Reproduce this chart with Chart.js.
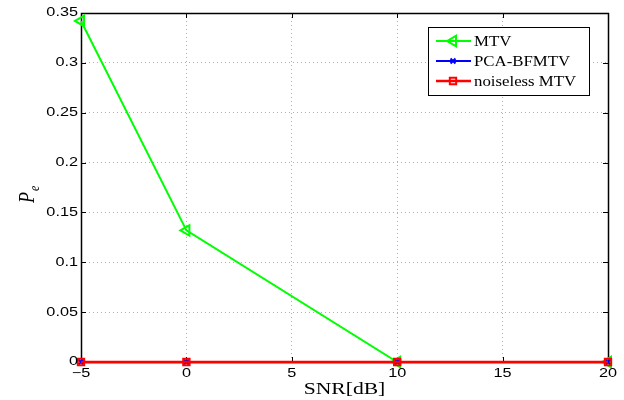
<!DOCTYPE html>
<html><head><meta charset="utf-8">
<script src="https://cdn.jsdelivr.net/npm/chart.js@4/dist/chart.umd.min.js"></script>
<style>html,body{margin:0;padding:0;background:#fff}#w{width:624px;height:400px}</style>
</head><body><div id="w"><canvas id="c" width="624" height="400"></canvas></div>
<script>
const snr = [-5, 0, 10, 20];
const mtv = [0.342, 0.132, 0, 0];
const pcaBfmtv = [0, 0, 0, 0];
const noiselessMtv = [0, 0, 0, 0];
const seriesNames = ['MTV', 'PCA-BFMTV', 'noiseless MTV'];
const xTicks = [-5, 0, 5, 10, 15, 20];
const yTicks = [0, 0.05, 0.1, 0.15, 0.2, 0.25, 0.3, 0.35];
const xTitle = 'SNR[dB]';

const toPts = ys => snr.map((x, i) => ({x: x, y: ys[i]}));
const fmtX = v => (v < 0 ? '\u2212' + Math.abs(v) : String(v));
const fmtY = v => String(parseFloat(v.toFixed(2)));

const SANS = '"Liberation Sans", Arial, sans-serif';
const SERIF = '"Liberation Serif", "DejaVu Serif", serif';

function stretchText(ctx, txt, x, y, font, align, sx, base) {
  ctx.save();
  ctx.font = font;
  ctx.textAlign = align;
  ctx.textBaseline = base || 'middle';
  ctx.translate(x, y);
  ctx.scale(sx, 1);
  ctx.fillText(txt, 0, 0);
  ctx.restore();
}

const matlabPlugin = {
  id: 'matlab',
  beforeDatasetsDraw(chart) {
    const ctx = chart.ctx, a = chart.chartArea;
    const xs = chart.scales.x, ys = chart.scales.y;
    ctx.save();
    ctx.strokeStyle = '#000';
    ctx.lineWidth = 1;
    ctx.beginPath();
    xTicks.forEach(v => {
      const px = Math.round(xs.getPixelForValue(v)) + 0.5;
      ctx.moveTo(px, a.bottom); ctx.lineTo(px, a.bottom - 5);
      ctx.moveTo(px, a.top); ctx.lineTo(px, a.top + 5);
    });
    yTicks.forEach(v => {
      const py = Math.round(ys.getPixelForValue(v)) + 0.5;
      ctx.moveTo(a.left, py); ctx.lineTo(a.left + 5, py);
      ctx.moveTo(a.right, py); ctx.lineTo(a.right - 5, py);
    });
    ctx.stroke();
    ctx.lineWidth = 1.5;
    ctx.strokeRect(a.left + 0.5, a.top + 0.5, a.right - a.left, a.bottom - a.top);
    ctx.restore();
  },
  afterDraw(chart) {
    const ctx = chart.ctx, a = chart.chartArea;
    const xs = chart.scales.x, ys = chart.scales.y;
    ctx.save();
    ctx.fillStyle = '#000';
    xTicks.forEach(v => {
      stretchText(ctx, fmtX(v), xs.getPixelForValue(v), a.bottom + 12, '12.5px ' + SANS, 'center', 1.3);
    });
    yTicks.forEach(v => {
      stretchText(ctx, fmtY(v), a.left - 3, ys.getPixelForValue(v), '12.5px ' + SANS, 'right', 1.3);
    });
    stretchText(ctx, xTitle, (a.left + a.right) / 2, 394, '16px ' + SERIF, 'center', 1.35, 'alphabetic');
    ctx.save();
    ctx.translate(34, 203);
    ctx.rotate(-Math.PI / 2);
    ctx.scale(1, 1.3);
    ctx.font = 'italic 18px ' + SERIF;
    ctx.textAlign = 'left';
    ctx.textBaseline = 'alphabetic';
    ctx.fillText('P', 0, 0);
    const pw = ctx.measureText('P').width;
    ctx.font = 'italic 12px ' + SERIF;
    ctx.fillText('e', pw + 1, 4);
    ctx.restore();
    // legend
    const lx = 428, ly = 27, lw = 161, lh = 68;
    ctx.fillStyle = '#fff';
    ctx.fillRect(lx, ly, lw, lh);
    ctx.strokeStyle = '#000';
    ctx.lineWidth = 1;
    ctx.strokeRect(lx + 0.5, ly + 0.5, lw, lh);
    chart.data.datasets.forEach((ds, i) => {
      const ry = 41 + i * 20;
      ctx.strokeStyle = ds.borderColor;
      ctx.lineWidth = ds.borderWidth;
      ctx.beginPath();
      ctx.moveTo(436, ry); ctx.lineTo(471, ry);
      ctx.stroke();
      ctx.fillStyle = 'rgba(0,0,0,0)';
      ctx.strokeStyle = ds.pointBorderColor;
      ctx.lineWidth = ds.pointBorderWidth;
      Chart.helpers.drawPoint(ctx, {
        pointStyle: ds.pointStyle, rotation: ds.pointRotation || 0,
        radius: ds.pointRadius, borderWidth: ds.pointBorderWidth
      }, 453, ry);
      ctx.fillStyle = '#000';
      stretchText(ctx, ds.label, 474, ry + 1, '14px ' + SERIF, 'left', 1.2);
    });
    ctx.restore();
  }
};

new Chart(document.getElementById('c'), {
  type: 'line',
  data: {
    datasets: [
      {label: seriesNames[0], data: toPts(mtv), borderColor: '#00ff00', backgroundColor: 'rgba(0,0,0,0)',
       borderWidth: 2, pointStyle: 'triangle', pointRotation: -90, pointRadius: 6, pointBorderWidth: 2,
       pointBorderColor: '#00ff00', pointBackgroundColor: 'rgba(0,0,0,0)', order: 2, clip: false, tension: 0},
      {label: seriesNames[1], data: toPts(pcaBfmtv), borderColor: '#0000ff', backgroundColor: 'rgba(0,0,0,0)',
       borderWidth: 2, pointStyle: 'crossRot', pointRadius: 3.5, pointBorderWidth: 2,
       pointBorderColor: '#0000ff', order: 1, clip: false, tension: 0},
      {label: seriesNames[2], data: toPts(noiselessMtv), borderColor: '#ff0000', backgroundColor: 'rgba(0,0,0,0)',
       borderWidth: 2.5, pointStyle: 'rect', pointRadius: 4.5, pointBorderWidth: 2,
       pointBorderColor: '#ff0000', pointBackgroundColor: 'rgba(0,0,0,0)', order: 0, clip: false, tension: 0}
    ]
  },
  options: {
    responsive: false,
    animation: false,
    devicePixelRatio: 1,
    layout: {padding: {left: 0, right: 16, top: 13, bottom: 0}},
    plugins: {legend: {display: false}, tooltip: {enabled: false}},
    scales: {
      x: {
        type: 'linear', min: -5, max: 20,
        afterBuildTicks: s => { s.ticks = xTicks.map(v => ({value: v})); },
        afterFit: s => { s.height = 38; },
        ticks: {display: false},
        grid: {color: '#b0b0b0', lineWidth: 1, drawTicks: false},
        border: {display: false, dash: [1, 3]}
      },
      y: {
        type: 'linear', min: 0, max: 0.35,
        afterBuildTicks: s => { s.ticks = yTicks.map(v => ({value: v})); },
        afterFit: s => { s.width = 81; },
        ticks: {display: false},
        grid: {color: '#b0b0b0', lineWidth: 1, drawTicks: false},
        border: {display: false, dash: [1, 3]}
      }
    }
  },
  plugins: [matlabPlugin]
});
</script>
</body></html>
